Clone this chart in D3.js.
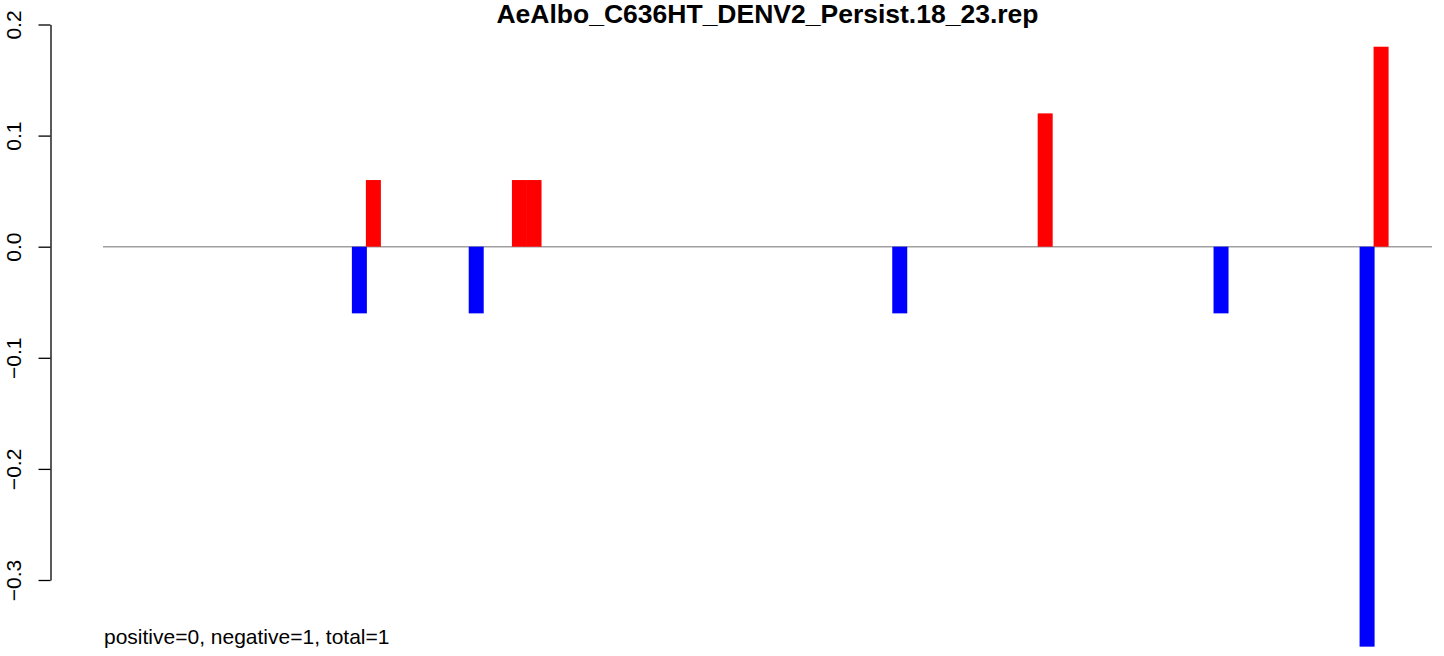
<!DOCTYPE html>
<html>
<head>
<meta charset="utf-8">
<script src="https://cdn.jsdelivr.net/npm/d3@7"></script>
<style>
  html, body { margin: 0; padding: 0; background: #fff; }
  svg { display: block; font-family: "Liberation Sans", Arial, Helvetica, sans-serif; }
</style>
</head>
<body>
<svg id="chart" width="1444" height="656"></svg>
<script>
// ---- data ----
const title = "AeAlbo_C636HT_DENV2_Persist.18_23.rep";
const footnote = "positive=0, negative=1, total=1";
const xDomain = [0, 91];
const negPositions = [18, 26, 55, 77, 87];
const negValues = [-0.06, -0.06, -0.06, -0.06, -0.36];
const posPositions = [18, 28, 29, 64, 87];
const posValues = [0.06, 0.06, 0.06, 0.12, 0.18];
const yTicks = [-0.3, -0.2, -0.1, 0.0, 0.1, 0.2];

// ---- layout ----
const svg = d3.select("#chart");
const x = d3.scaleLinear().domain(xDomain).range([103, 1432]);
const y = d3.scaleLinear().domain([-0.3, 0.2]).range([580, 24.5]);

// baseline
svg.append("line")
  .attr("x1", x(xDomain[0])).attr("x2", x(xDomain[1]))
  .attr("y1", y(0)).attr("y2", y(0))
  .attr("stroke", "#a0a0a0").attr("stroke-width", 1.5);

// negative bars (left of position)
const neg = negPositions.map((p, i) => ({p, v: negValues[i]}));
svg.append("g").selectAll("rect").data(neg).join("rect")
  .attr("x", d => x(d.p - 1) + 0.6)
  .attr("width", d => x(d.p) - x(d.p - 1) + 0.4)
  .attr("y", d => y(0))
  .attr("height", d => y(d.v) - y(0))
  .attr("fill", "#0000ff");

// positive bars (right of position)
const pos = posPositions.map((p, i) => ({p, v: posValues[i]}));
svg.append("g").selectAll("rect").data(pos).join("rect")
  .attr("x", d => x(d.p))
  .attr("width", d => x(d.p + 1) - x(d.p) + 0.4)
  .attr("y", d => y(d.v))
  .attr("height", d => y(0) - y(d.v))
  .attr("fill", "#ff0000");

// y axis
const yAxis = d3.axisLeft(y).tickValues(yTicks).tickSizeInner(12).tickSizeOuter(0)
  .tickFormat(d3.format(".1f"));
const ga = svg.append("g").attr("transform", "translate(50.5,0)").call(yAxis);
ga.select(".domain").attr("stroke", "#000").attr("stroke-width", 1.3);
ga.selectAll(".tick line").attr("stroke", "#000").attr("stroke-width", 1.3);
ga.selectAll(".tick text")
  .attr("font-size", 21)
  .attr("font-family", "Liberation Sans, Arial, sans-serif")
  .attr("fill", "#000")
  .attr("x", null).attr("dy", null)
  .attr("text-anchor", "middle")
  .attr("transform", "translate(-29.5,0) rotate(-90)");

// title
svg.append("text")
  .attr("x", (x(xDomain[0]) + x(xDomain[1])) / 2)
  .attr("y", 23)
  .attr("text-anchor", "middle")
  .attr("font-weight", "bold")
  .attr("font-size", 26.5)
  .text(title);

// footnote
svg.append("text")
  .attr("x", 104)
  .attr("y", 644)
  .attr("font-size", 21)
  .text(footnote);
</script>
</body>
</html>
